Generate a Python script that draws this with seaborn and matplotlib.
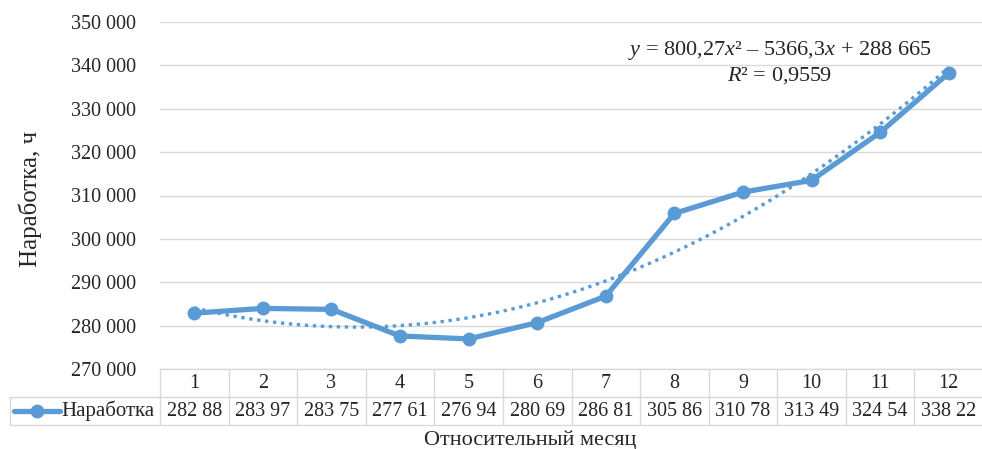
import numpy as np
import pandas as pd
import matplotlib
matplotlib.use("Agg")
import matplotlib.pyplot as plt
import matplotlib.transforms as mtransforms
from matplotlib.lines import Line2D
import seaborn as sns

months = [1, 2, 3, 4, 5, 6, 7, 8, 9, 10, 11, 12]
values = [282880, 283970, 283750, 277610, 276940, 280690, 286810,
          305860, 310780, 313490, 324540, 338220]
table_labels = ["282 88", "283 97", "283 75", "277 61", "276 94", "280 69",
                "286 81", "305 86", "310 78", "313 49", "324 54", "338 22"]
yticks = [270000, 280000, 290000, 300000, 310000, 320000, 330000, 340000, 350000]
series_name = "Наработка"
eq_text = r"$y$ = 800,27$x$² – 5366,3$x$ + 288 665"
r2_text = r"$R$² = 0,9559"

sns.set_style("white")
plt.rcParams["font.family"] = ["Liberation Serif", "DejaVu Serif"]
plt.rcParams["mathtext.fontset"] = "custom"
plt.rcParams["mathtext.rm"] = "Liberation Serif"
plt.rcParams["mathtext.it"] = "Liberation Serif:italic"

color = "#5B9BD5"
gridc = "#d9d9d9"

W, H = 982, 449
fig = plt.figure(figsize=(W / 100, H / 100), dpi=100)
L, R, T, B = 160, 983, 22, 369
ax = fig.add_axes([L / W, 1 - B / H, (R - L) / W, (B - T) / H])

df = pd.DataFrame({"month": months, "value": values})

# trendline (2nd-order polynomial fit)
coef = np.polyfit(months, values, 2)
xs = np.linspace(1, 12, 200)
ax.plot(xs, np.polyval(coef, xs), linestyle=(0, (1, 1.4)), color=color, lw=2.4, zorder=2)

sns.lineplot(data=df, x="month", y="value", ax=ax, color=color, lw=3.8,
             marker="o", markersize=10, markeredgewidth=0, zorder=3)

ax.set_xlim(0.5, 12.5)
ax.set_ylim(270000, 350000)
ax.set_yticks(yticks)
ax.set_yticklabels([f"{v:,}".replace(",", " ") for v in yticks], fontsize=14.5)
ax.set_xticks([])
ax.tick_params(axis="y", length=0, pad=17)
ax.grid(axis="y", color=gridc, lw=1)
for s in ax.spines.values():
    s.set_visible(False)
ax.set_xlabel("")
ax.set_ylabel("")
fig.text(30 / W, 1 - 199 / H, "Наработка, ч", rotation=90, ha="center", va="center",
         fontsize=18)

ax.text(0.753, 0.917, eq_text, transform=ax.transAxes, ha="center", va="center", fontsize=16)
ax.text(0.753, 0.847, r2_text, transform=ax.transAxes, ha="center", va="center", fontsize=16)

# data table
ah = B - T
def yf(py):
    return -(py - B) / ah
y0, y1, y2 = yf(369), yf(397), yf(425)
xleft = (10 - L) / (R - L)
bt = mtransforms.blended_transform_factory(ax.transData, ax.transAxes)
lkw = dict(color=gridc, lw=1, clip_on=False)
ax.add_line(Line2D([0, 1], [y0, y0], transform=ax.transAxes, **lkw))
ax.add_line(Line2D([xleft, 1], [y1, y1], transform=ax.transAxes, **lkw))
ax.add_line(Line2D([xleft, 1], [y2, y2], transform=ax.transAxes, **lkw))
ax.add_line(Line2D([xleft, xleft], [y1, y2], transform=ax.transAxes, **lkw))
for b in np.arange(0.5, 13, 1.0):
    ax.add_line(Line2D([b, b], [y0, y2], transform=bt, **lkw))
for m, lab in zip(months, table_labels):
    ax.text(m, (y0 + y1) / 2, str(m), transform=bt, ha="center", va="center", fontsize=14.5)
    ax.text(m, (y1 + y2) / 2, lab, transform=bt, ha="center", va="center", fontsize=14.5)
# legend key
xk0, xk1 = (14 - L) / (R - L), (60 - L) / (R - L)
ym = (y1 + y2) / 2
ax.add_line(Line2D([xk0, xk1], [ym, ym], transform=ax.transAxes, color=color, lw=3.8,
                   clip_on=False))
ax.add_line(Line2D([(xk0 + xk1) / 2], [ym], transform=ax.transAxes, color=color,
                   marker="o", markersize=10, markeredgewidth=0, clip_on=False))
ax.text((61 - L) / (R - L), ym, series_name, transform=ax.transAxes, ha="left",
        va="center", fontsize=15)

fig.text(530 / W, 1 - 440 / H, "Относительный месяц", ha="center", va="center", fontsize=16)

fig.savefig("out.png", dpi=100)
